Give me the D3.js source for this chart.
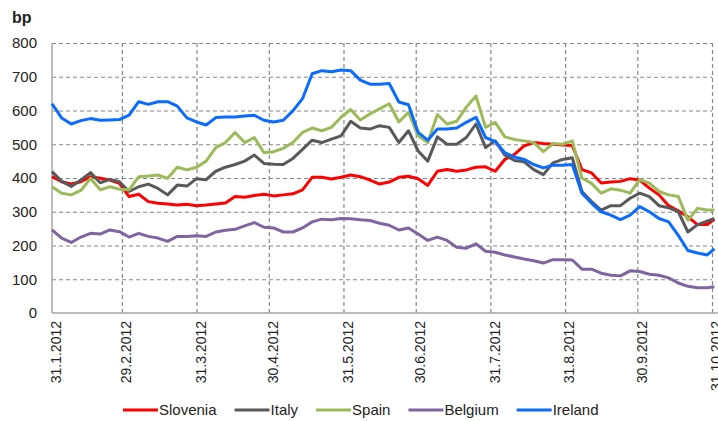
<!DOCTYPE html>
<html>
<head>
<meta charset="utf-8">
<script src="https://cdn.jsdelivr.net/npm/d3@7"></script>
<style>
  body { margin: 0; background: #fff; }
  svg { display: block; font-family: "Liberation Sans", Arial, sans-serif; }
</style>
</head>
<body>
<div id="chart"></div>
<script>
// observation dates (roughly every 4 days)
const dates = [
  "2012-01-31","2012-02-04","2012-02-08","2012-02-12","2012-02-16","2012-02-20","2012-02-24","2012-02-28",
  "2012-03-03","2012-03-07","2012-03-11","2012-03-15","2012-03-19","2012-03-23","2012-03-27","2012-03-31",
  "2012-04-04","2012-04-08","2012-04-12","2012-04-16","2012-04-20","2012-04-24","2012-04-28","2012-05-02",
  "2012-05-06","2012-05-10","2012-05-14","2012-05-18","2012-05-22","2012-05-26","2012-05-30","2012-06-03",
  "2012-06-07","2012-06-11","2012-06-15","2012-06-19","2012-06-23","2012-06-27","2012-07-01","2012-07-05",
  "2012-07-09","2012-07-13","2012-07-17","2012-07-21","2012-07-25","2012-07-29","2012-08-02","2012-08-06",
  "2012-08-10","2012-08-14","2012-08-18","2012-08-22","2012-08-26","2012-08-30","2012-09-03","2012-09-07",
  "2012-09-11","2012-09-15","2012-09-19","2012-09-23","2012-09-27","2012-10-01","2012-10-05","2012-10-09",
  "2012-10-13","2012-10-17","2012-10-21","2012-10-25","2012-10-29","2012-11-01"
];

const slovenia = [
  404,389,382,389,404,399,394,384,345,352,330,325,323,320,322,
  318,320,323,326,345,343,348,352,347,350,353,365,402,402,
  397,402,409,404,394,382,388,402,405,398,378,420,425,420,
  424,432,433,420,455,470,495,505,502,500,498,496,425,415,
  385,388,390,398,394,370,350,318,303,285,262,262,278
];
const italy = [
  419,390,375,394,416,386,396,389,360,374,382,369,350,379,376,
  398,395,420,432,440,450,468,443,441,440,458,485,512,505,
  515,525,568,548,545,555,550,505,540,480,450,522,500,500,
  520,560,490,510,468,452,448,425,410,445,455,460,360,330,
  305,318,318,340,355,345,318,312,300,240,262,272,280
];
const spain = [
  374,355,350,363,399,365,374,367,365,404,406,409,399,432,424,
  432,450,490,505,535,505,520,475,478,488,505,535,548,540,
  550,580,603,572,590,605,620,566,595,525,505,588,560,568,
  610,643,550,565,522,514,510,505,478,502,500,510,400,384,
  355,368,364,355,395,385,360,350,345,275,310,305,305
];
const belgium = [
  246,222,209,225,236,234,246,241,225,236,227,222,212,227,227,
  229,227,240,245,248,258,268,254,252,240,240,252,270,278,
  276,280,279,276,274,266,260,246,252,234,215,225,215,195,
  192,205,183,180,172,166,160,155,148,158,158,157,130,130,
  118,112,110,125,123,115,112,104,89,79,75,75,78
];
const ireland = [
  620,578,560,570,576,571,572,573,586,626,618,626,626,613,578,
  566,557,579,581,581,584,586,571,566,571,599,635,709,718,
  715,720,718,690,678,678,680,625,617,535,512,545,545,548,
  565,580,520,508,475,462,455,440,430,438,438,440,355,325,
  300,290,277,290,315,300,280,270,230,185,178,172,190
];

const seriesNames = ["Slovenia", "Italy", "Spain", "Belgium", "Ireland"];
const seriesColors = ["#ff0000", "#595959", "#9bbb59", "#8064a2", "#0a6cff"];
const seriesValues = [slovenia, italy, spain, belgium, ireland];

const tickDates = ["2012-01-31","2012-02-29","2012-03-31","2012-04-30","2012-05-31",
                   "2012-06-30","2012-07-31","2012-08-31","2012-09-30","2012-10-31"];
const tickLabels = ["31.1.2012","29.2.2012","31.3.2012","30.4.2012","31.5.2012",
                    "30.6.2012","31.7.2012","31.8.2012","30.9.2012","31.10.2012"];
const yTicks = [0, 100, 200, 300, 400, 500, 600, 700, 800];

// layout
const margin = { top: 43, right: 6, bottom: 108, left: 52 };
const width = 718 - margin.left - margin.right;
const height = 421 - margin.top - margin.bottom;

const parse = d3.timeParse("%Y-%m-%d");

const svg = d3.select("#chart")
  .append("svg")
  .attr("width", 718)
  .attr("height", 421);

const group = svg.append("g")
  .attr("transform", "translate(" + margin.left + "," + margin.top + ")");

const xScale = d3.scaleTime()
  .domain([parse(tickDates[0]), parse(tickDates[tickDates.length - 1])])
  .range([0, width]);
const yScale = d3.scaleLinear().domain([0, 800]).range([height, 0]);

// horizontal grid + y labels
const yAxis = d3.axisLeft(yScale).tickValues(yTicks).tickSize(-width).tickPadding(15);
const yAxisGroup = group.append("g").attr("class", "y-axis").call(yAxis);
yAxisGroup.select(".domain").remove();
yAxisGroup.selectAll(".tick line")
  .attr("stroke", "#868686")
  .attr("stroke-width", 1.2)
  .attr("stroke-dasharray", d => d === 0 ? null : "4,3")
  .attr("stroke-opacity", d => d === 0 ? 0 : 1);
yAxisGroup.selectAll(".tick text")
  .style("font-size", "15px")
  .attr("fill", "#222");

// vertical grid + rotated date labels
const xAxis = d3.axisBottom(xScale)
  .tickValues(tickDates.map(parse))
  .tickFormat((d, i) => tickLabels[i])
  .tickSize(-height)
  .tickPadding(0);
const xAxisGroup = group.append("g")
  .attr("class", "x-axis")
  .attr("transform", "translate(0," + height + ")")
  .call(xAxis);
xAxisGroup.select(".domain").remove();
xAxisGroup.selectAll(".tick line")
  .attr("stroke", "#868686")
  .attr("stroke-width", 1.2)
  .attr("stroke-dasharray", (d, i) => i === 0 ? null : "4,3")
  .attr("stroke-opacity", (d, i) => i === 0 ? 0 : 1);
xAxisGroup.selectAll(".tick text")
  .style("font-size", "14px")
  .attr("fill", "#222")
  .attr("text-anchor", "end")
  .attr("transform", "translate(4,8) rotate(-90)")
  .attr("x", 0)
  .attr("y", 0)
  .attr("dy", "0.35em");

// solid axis lines
group.append("line")
  .attr("x1", 0).attr("x2", 0)
  .attr("y1", yScale(800)).attr("y2", yScale(0))
  .attr("stroke", "#a6a6a6").attr("stroke-width", 1.5);
group.append("line")
  .attr("x1", 0).attr("x2", 718 - margin.left)
  .attr("y1", yScale(0)).attr("y2", yScale(0))
  .attr("stroke", "#a6a6a6").attr("stroke-width", 1.5);

// series lines
const line = d3.line()
  .x((d, i) => xScale(parse(dates[i])))
  .y(d => yScale(d));

group.selectAll(".series")
  .data(seriesValues)
  .enter()
  .append("path")
  .attr("class", "series")
  .attr("d", d => line(d))
  .attr("fill", "none")
  .attr("stroke", (d, i) => seriesColors[i])
  .attr("stroke-width", 3)
  .attr("stroke-linejoin", "round");

// unit label
svg.append("text")
  .text("bp")
  .attr("x", 12)
  .attr("y", 23)
  .style("font-size", "16px")
  .style("font-weight", "bold")
  .attr("fill", "#222");

// legend
const legend = svg.append("g").attr("transform", "translate(123,410)");
let lx = 0;
seriesNames.forEach((name, i) => {
  legend.append("line")
    .attr("x1", lx).attr("x2", lx + 35)
    .attr("y1", 0).attr("y2", 0)
    .attr("stroke", seriesColors[i])
    .attr("stroke-width", 3);
  const t = legend.append("text")
    .text(name)
    .attr("x", lx + 36)
    .attr("y", 0)
    .attr("dy", "0.35em")
    .style("font-size", "15px")
    .attr("fill", "#222");
  lx += 36 + t.node().getComputedTextLength() + 18;
});
</script>
</body>
</html>
